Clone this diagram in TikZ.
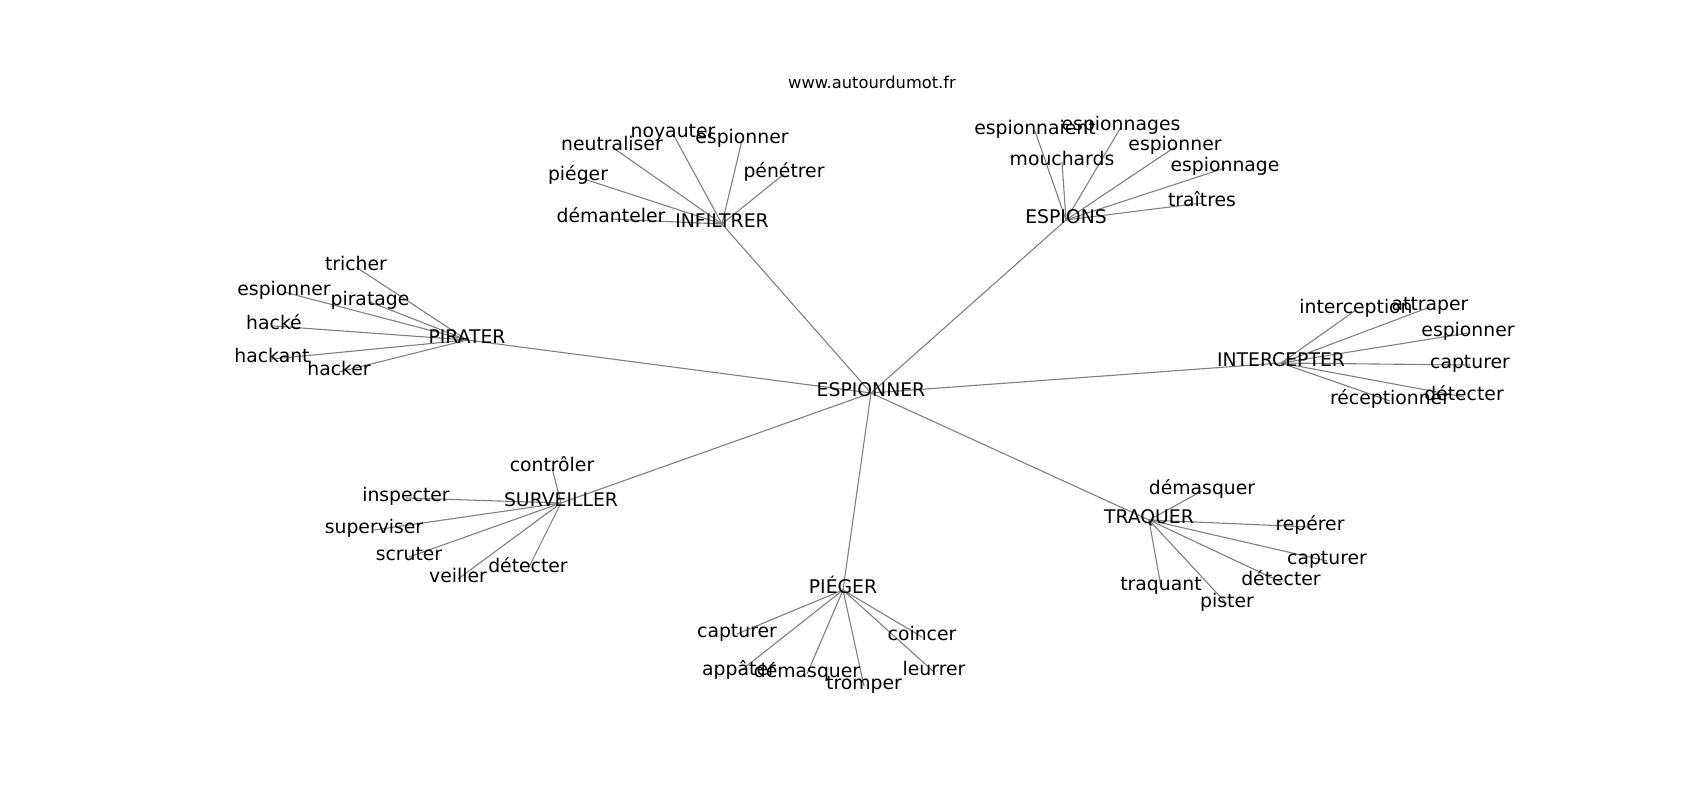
\documentclass[tikz,border=0pt]{standalone}
\usepackage{fontspec}
\setmainfont{DejaVu Sans}
\usetikzlibrary{backgrounds}

\begin{document}
\begin{tikzpicture}[x=1pt,y=-1pt]
	\tikzstyle{word}=[inner sep=0pt, text height=0.73em, text depth=0pt, font=\fontsize{18.8}{20}\selectfont]
	\tikzstyle{link}=[draw=gray, line width=1.1pt]
	\useasboundingbox (0,0) rectangle (1700,800);
	\begin{scope}[yshift=-4pt]
		\node[word, font=\fontsize{16.3}{18}\selectfont] (site) at (872,81) {www.autourdumot.fr};
		\node[word] (esp) at (871,389) {ESPIONNER};
	% INFILTRER
		\node[word] (inf) at (722,220) {INFILTRER};
		\node[word] (inf1) at (673,130) {noyauter};
		\node[word] (inf2) at (742,136) {espionner};
		\node[word] (inf3) at (612,143) {neutraliser};
		\node[word] (inf4) at (578,173) {piéger};
		\node[word] (inf5) at (784,170) {pénétrer};
		\node[word] (inf6) at (611,215) {démanteler};
	% ESPIONS
		\node[word] (spy) at (1066,216) {ESPIONS};
		\node[word] (spy1) at (1035,127) {espionnaient};
		\node[word] (spy2) at (1121,123) {espionnages};
		\node[word] (spy3) at (1062,158) {mouchards};
		\node[word] (spy4) at (1175,143) {espionner};
		\node[word] (spy5) at (1225,164) {espionnage};
		\node[word] (spy6) at (1202,199) {traîtres};
	% PIRATER
		\node[word] (pir) at (467,336) {PIRATER};
		\node[word] (pir1) at (356,263) {tricher};
		\node[word] (pir2) at (284,288) {espionner};
		\node[word] (pir3) at (370,298) {piratage};
		\node[word] (pir4) at (274,322) {hacké};
		\node[word] (pir5) at (272,355) {hackant};
		\node[word] (pir6) at (339,368) {hacker};
	% INTERCEPTER
		\node[word] (int) at (1281,359) {INTERCEPTER};
		\node[word] (int1) at (1356,306) {interception};
		\node[word] (int2) at (1430,303) {attraper};
		\node[word] (int3) at (1468,329) {espionner};
		\node[word] (int4) at (1470,361) {capturer};
		\node[word] (int5) at (1464,393) {détecter};
		\node[word] (int6) at (1390,397) {réceptionner};
	% SURVEILLER
		\node[word] (sur) at (561,499) {SURVEILLER};
		\node[word] (sur1) at (552,464) {contrôler};
		\node[word] (sur2) at (406,494) {inspecter};
		\node[word] (sur3) at (374,526) {superviser};
		\node[word] (sur4) at (409,553) {scruter};
		\node[word] (sur5) at (458,575) {veiller};
		\node[word] (sur6) at (528,565) {détecter};
	% PIEGER
		\node[word] (pie) at (843,586) {PIÉGER};
		\node[word] (pie1) at (737,630) {capturer};
		\node[word] (pie2) at (922,633) {coincer};
		\node[word] (pie3) at (739,668) {appâter};
		\node[word] (pie4) at (807,670) {démasquer};
		\node[word] (pie5) at (864,682) {tromper};
		\node[word] (pie6) at (934,668) {leurrer};
	% TRAQUER
		\node[word] (tra) at (1149,516) {TRAQUER};
		\node[word] (tra1) at (1202,487) {démasquer};
		\node[word] (tra2) at (1310,523) {repérer};
		\node[word] (tra3) at (1327,557) {capturer};
		\node[word] (tra4) at (1281,578) {détecter};
		\node[word] (tra5) at (1161,583) {traquant};
		\node[word] (tra6) at (1227,600) {pister};
	\begin{scope}[on background layer]
		\foreach \hub in {inf,spy,pir,int,sur,pie,tra}{
			\draw[link] (esp.center) -- (\hub.center);
			\foreach \i in {1,...,6}
				\draw[link] (\hub.center) -- (\hub\i.center);
		}
	\end{scope}
	\end{scope}
\end{tikzpicture}
\end{document}
